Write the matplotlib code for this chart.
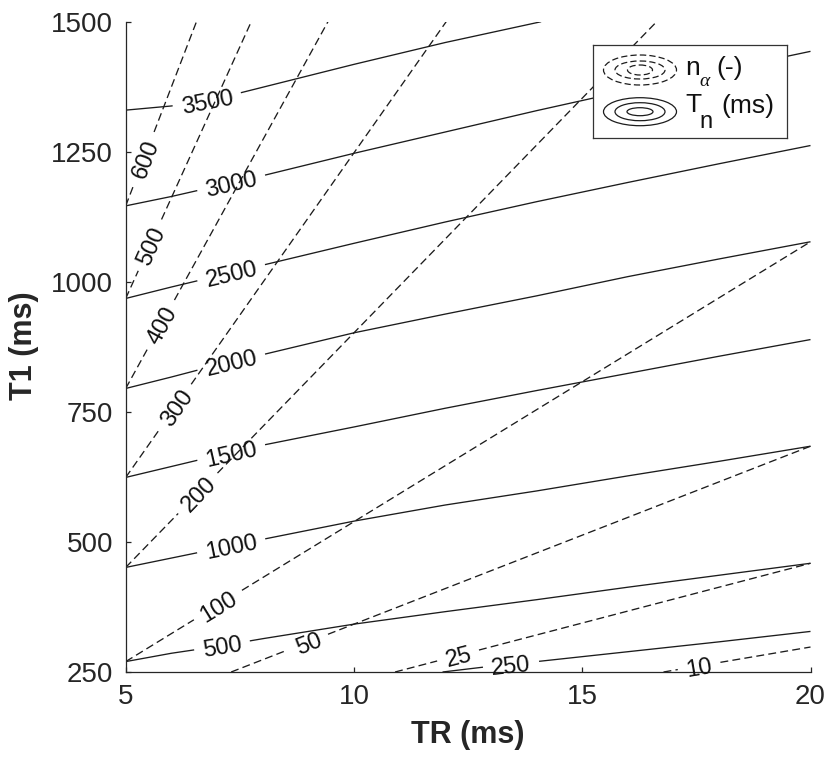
import numpy as np
import matplotlib
matplotlib.use("Agg")
import matplotlib.pyplot as plt
from matplotlib.patches import Ellipse

plt.rcParams['font.family'] = ['Liberation Sans', 'DejaVu Sans']

# ---------------- data ----------------
# T_n contours (solid), T1 (ms) at TR (ms)
tr_grid = [5, 6, 7, 8, 10, 12, 14, 16, 18, 20]
tn_3000 = [1146, 1164, 1184, 1204, 1247, 1288, 1329, 1368, 1406, 1443]
tn_2500 = [968, 990, 1011, 1032, 1074, 1115, 1154, 1191, 1227, 1262]
tn_2000 = [795, 817, 840, 860, 902, 938, 973, 1010, 1044, 1077]
tn_1500 = [624, 645, 666, 686, 721, 757, 791, 824, 857, 889]
tn_1000 = [451, 469, 487, 505, 540, 571, 598, 627, 655, 684]
tn_500 = [270, 286, 299, 314, 342, 366, 389, 413, 436, 459]
tn_3500_tr = [5, 6, 7, 8, 10, 12, 14.1]
tn_3500 = [1330, 1338, 1352, 1374, 1418, 1460, 1500]
tn_250_tr = [11.94, 12.8, 14, 16, 18, 20]
tn_250 = [250, 259, 270, 289, 308, 328]

# n_alpha contours (dashed): straight lines, start/end points
na_levels = [10, 25, 50, 100, 200, 300, 400, 500, 600]
na_tr_start = [16.78, 10.9, 7.31, 5, 5, 5, 5, 5, 5]
na_t1_start = [250, 250, 250, 270, 451, 624, 795, 968, 1146]
na_tr_end = [20, 20, 20, 20, 16.63, 12.02, 9.43, 7.75, 6.55]
na_t1_end = [298, 459, 684, 1077, 1500, 1500, 1500, 1500, 1500]

# label positions (TR value where each inline label sits)
tn_label_tr = {3500: 6.78, 3000: 7.31, 2500: 7.31, 2000: 7.31, 1500: 7.31,
               1000: 7.31, 500: 7.11, 250: 13.44}
na_label_tr = {600: 5.40, 500: 5.53, 400: 5.77, 300: 6.08, 200: 6.58,
               100: 7.02, 50: 8.99, 25: 12.28, 10: 17.56}

x_ticks = [5, 10, 15, 20]
y_ticks = [250, 500, 750, 1000, 1250, 1500]

# ---------------- figure ----------------
W, H = 829, 758
fig = plt.figure(figsize=(W / 100, H / 100), dpi=100)
ax = fig.add_axes([125.7 / W, 1 - 672 / H, (810.5 - 125.7) / W, (672 - 21.7) / H])
ax.set_xlim(5, 20)
ax.set_ylim(250, 1500)

TXT = '#262626'
LC = '#1c1c1c'
LAB_FS = 17

renderer = fig.canvas.get_renderer()


def text_width(s, fs):
    t = ax.text(0, 0, s, fontsize=fs)
    w = t.get_window_extent(renderer).width
    t.remove()
    return w


def line_with_label(xs, ys, lab_tr, text, ls, zorder, extra=17):
    xs = np.asarray(xs, float)
    ys = np.asarray(ys, float)
    P = ax.transData.transform(np.column_stack([xs, ys]))
    s = np.concatenate([[0], np.cumsum(np.hypot(np.diff(P[:, 0]), np.diff(P[:, 1])))])
    yc = np.interp(lab_tr, xs, ys)
    pc = ax.transData.transform([[lab_tr, yc]])[0]
    sc = np.interp(pc[0], P[:, 0], s)
    w = text_width(text, LAB_FS) + extra
    sa, sb = sc - w / 2, sc + w / 2
    xa, ya = np.interp(sa, s, xs), np.interp(sa, s, ys)
    xb, yb = np.interp(sb, s, xs), np.interp(sb, s, ys)
    m1 = s < sa
    m2 = s > sb
    kw = dict(color=LC, lw=0.95, zorder=zorder, solid_capstyle='butt',
              dash_capstyle='butt')
    if ls == 'dashed':
        kw['linestyle'] = (0, (6, 3.2))
    ax.plot(np.r_[xs[m1], xa], np.r_[ys[m1], ya], **kw)
    ax.plot(np.r_[xb, xs[m2]], np.r_[yb, ys[m2]], **kw)
    Pa = ax.transData.transform([[xa, ya]])[0]
    Pb = ax.transData.transform([[xb, yb]])[0]
    ang = np.degrees(np.arctan2(Pb[1] - Pa[1], Pb[0] - Pa[0]))
    ax.text(lab_tr, yc, text, rotation=ang, rotation_mode='anchor',
            ha='center', va='center_baseline', fontsize=LAB_FS, color='#111111',
            zorder=zorder + 1)


# solid T_n lines
solid = [
    (tn_3500_tr, tn_3500, 3500),
    (tr_grid, tn_3000, 3000),
    (tr_grid, tn_2500, 2500),
    (tr_grid, tn_2000, 2000),
    (tr_grid, tn_1500, 1500),
    (tr_grid, tn_1000, 1000),
    (tr_grid, tn_500, 500),
    (tn_250_tr, tn_250, 250),
]
for xs, ys, lev in solid:
    line_with_label(xs, ys, tn_label_tr[lev], str(lev), 'solid', 2)

# dashed n_alpha lines
for lev, x0, y0, x1, y1 in zip(na_levels, na_tr_start, na_t1_start, na_tr_end, na_t1_end):
    line_with_label([x0, x1], [y0, y1], na_label_tr[lev], str(lev), 'dashed', 2)

# axes styling (MATLAB-like, box off)
for sp in ['top', 'right']:
    ax.spines[sp].set_visible(False)
for sp in ['left', 'bottom']:
    ax.spines[sp].set_color(TXT)
    ax.spines[sp].set_linewidth(0.9)
ax.set_xticks(x_ticks)
ax.set_yticks(y_ticks)
ax.tick_params(direction='in', length=3.8, width=0.9, colors=TXT,
               labelsize=20, pad=9.0)

fig.text(468 / W, 1 - 735.5 / H, 'TR (ms)', ha='center', va='center',
         fontsize=22, fontweight='bold', color=TXT)
fig.text(24 / W, 1 - 346 / H, 'T1 (ms)', ha='center', va='center',
         rotation=90, fontsize=22, fontweight='bold', color=TXT)

# ---------------- legend (drawn in pixel units) ----------------
lx0, lx1, ly0, ly1 = 593, 787, 45, 138
lg = fig.add_axes([lx0 / W, 1 - ly1 / H, (lx1 - lx0) / W, (ly1 - ly0) / H], zorder=10)
lg.set_xlim(lx0, lx1)
lg.set_ylim(ly1, ly0)
lg.set_facecolor('white')
for sp in lg.spines.values():
    sp.set_color('#333333')
    sp.set_linewidth(0.9)
lg.set_xticks([])
lg.set_yticks([])

for (cy, ls, sizes) in [
    (70, (0, (5, 2.5)), [(73, 30), (50, 18), (25, 10)]),
    (111.7, '-', [(73, 28), (50, 18), (26, 8)]),
]:
    for w, h in sizes:
        lg.add_patch(Ellipse((640, cy), w, h, fill=False, edgecolor=LC,
                             lw=0.9, linestyle=ls))

lg.text(685, 75, 'n', fontsize=19, color='#111111', va='baseline', ha='left')
lg.text(699, 86.5, 'α', fontsize=14, color='#111111', va='baseline', ha='left',
        family=['Liberation Serif', 'DejaVu Serif'], style='italic')
lg.text(716, 75, '(-)', fontsize=19, color='#111111', va='baseline', ha='left')
lg.text(685, 112, 'T', fontsize=19, color='#111111', va='baseline', ha='left')
lg.text(699.5, 128, 'n', fontsize=17, color='#111111', va='baseline', ha='left')
lg.text(721, 113, '(ms)', fontsize=19, color='#111111', va='baseline', ha='left')

fig.savefig('out.png', dpi=100)
